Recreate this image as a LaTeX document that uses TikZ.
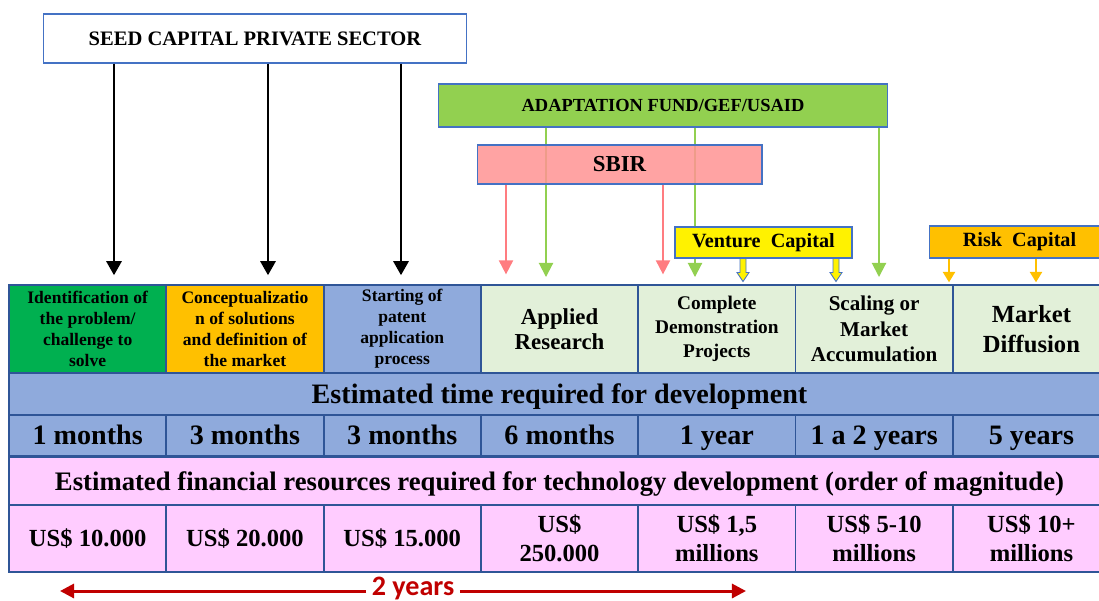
\documentclass[tikz,border=0pt]{standalone}
\usepackage{fontspec}
\setmainfont{Liberation Serif}
\newfontfamily\yearsfont{Carlito}
\usetikzlibrary{arrows.meta}

\definecolor{cellline}{RGB}{47,85,151}
\definecolor{boxline}{RGB}{68,114,196}
\definecolor{stagegreen}{RGB}{0,176,80}
\definecolor{stageorange}{RGB}{255,192,0}
\definecolor{stageblue}{RGB}{143,170,220}
\definecolor{stagelight}{RGB}{226,240,217}
\definecolor{costpink}{RGB}{255,204,255}
\definecolor{fundgreen}{RGB}{146,208,80}
\definecolor{sbirred}{RGB}{255,147,147}
\definecolor{sbirarrow}{RGB}{255,124,128}
\definecolor{yearred}{RGB}{192,0,0}

\begin{document}
\begin{tikzpicture}[x=0.02cm, y=-0.02cm,
    topbox/.style={draw=boxline, line width=.6pt, inner sep=0pt},
    cell/.style={draw=cellline, line width=1.1pt, inner sep=0pt, align=center, minimum width=3.146cm},
    timecell/.style={cell, fill=stageblue, font=\fontsize{16}{18}\selectfont\bfseries, text height=10.5pt, text depth=0pt},
    costcell/.style={cell, fill=costpink, minimum height=1.34cm, font=\fontsize{14}{16.5}\selectfont\bfseries},
    seedarr/.style={line width=1.7pt, -{Triangle[length=8pt,width=8.5pt]}, shorten >=5pt},
    fundarr/.style={draw=fundgreen, line width=1.1pt, -{Triangle[length=8pt,width=8pt]}, shorten >=4pt},
    sbirarr/.style={draw=sbirarrow, line width=1.1pt, -{Triangle[length=8pt,width=8pt]}, shorten >=5.5pt},
    riskarr/.style={draw=stageorange, line width=1.1pt, -{Triangle[length=6pt,width=7pt]}, shorten >=1pt},
    blockarr/.style={draw=boxline, fill=yellow, line width=.5pt},
    yeararr/.style={draw=yearred, line width=1.7pt, -{Triangle[length=8pt,width=8pt]}}]
             \useasboundingbox (0,0) rectangle (1099,600);

             % stages
             \node[cell, fill=stagegreen, minimum height=1.76cm, font=\fontsize{10}{12}\selectfont\bfseries] (s1) at (87.65, 329)
                {Identification of\\the problem/\\challenge to\\solve};
             \node[cell, fill=stageorange, minimum height=1.76cm, font=\fontsize{10}{12}\selectfont\bfseries] (s2) at (244.95, 329)
                {Conceptualizatio\\n of solutions\\and definition of\\the market};
             \node[cell, fill=stageblue, minimum height=1.76cm, font=\fontsize{10}{12}\selectfont\bfseries] (s3) at (402.25, 329)
                {Starting of\\patent\\application\\process};
             \node[cell, fill=stagelight, minimum height=1.76cm, font=\fontsize{13}{14.5}\selectfont\bfseries] (s4) at (559.55, 329)
                {Applied\\Research};
             \node[cell, fill=stagelight, minimum height=1.76cm, font=\fontsize{11}{13.5}\selectfont\bfseries] (s5) at (716.85, 329)
                {Complete\\Demonstration\\Projects};
             \node[cell, fill=stagelight, minimum height=1.76cm, font=\fontsize{12}{14.5}\selectfont\bfseries] (s6) at (874.15, 329)
                {Scaling or\\Market\\Accumulation};
             \node[cell, fill=stagelight, minimum height=1.76cm, font=\fontsize{14}{17}\selectfont\bfseries] (s7) at (1031.45, 329)
                {Market\\Diffusion};

             % funding sources
             \node[topbox, fill=white, minimum width=8.48cm, minimum height=.98cm,
                   font=\fontsize{11.7}{13}\selectfont\bfseries] (seed) at (255, 38.5) {SEED CAPITAL PRIVATE SECTOR};
             \node[topbox, fill=fundgreen, minimum width=9cm, minimum height=.86cm,
                   font=\fontsize{10.5}{12}\selectfont\bfseries] (fund) at (663, 105.5) {ADAPTATION FUND/GEF/USAID};
             \foreach \x in {546, 695, 879}
                \draw[fundarr] (\x,0 |- fund.south) -- (\x,0 |- s1.north);
             \node[topbox, fill=sbirred, fill opacity=.85, text opacity=1, minimum width=5.7cm, minimum height=.78cm,
                   font=\fontsize{13}{15}\selectfont\bfseries] (sbir) at (619.5, 164.5) {SBIR};
             \node[topbox, fill=yellow, minimum width=3.54cm, minimum height=.62cm,
                   font=\fontsize{11.5}{13}\selectfont\bfseries] (venture) at (763.5, 242.5) {Venture\ \ Capital};
             \node[topbox, fill=stageorange, minimum width=3.62cm, minimum height=.64cm,
                   font=\fontsize{11.5}{13}\selectfont\bfseries] (risk) at (1019.5, 242) {Risk\ \ Capital};

             % arrows into the stages
             \foreach \x in {114, 268, 401}
                \draw[seedarr] (\x,0 |- seed.south) -- (\x,0 |- s1.north);
             \foreach \x in {506, 663}
                \draw[sbirarr] (\x,0 |- sbir.south) -- (\x,0 |- s1.north);
             \foreach \x in {949, 1036}
                \draw[riskarr] (\x,0 |- risk.south) -- (\x,0 |- s1.north);
             \foreach \x in {743, 836}
                \draw[blockarr] (\x,0 |- venture.south) ++(-3,0) -- ++(0,14) -- ++(-3,0) -- ++(6,9)
                   -- ++(6,-9) -- ++(-3,0) -- ++(0,-14) -- cycle;

             % time
             \node[timecell, minimum width=22.02cm, minimum height=.84cm] (timetitle) at (559.5, 394)
                {Estimated time required for development};
             \node[timecell, minimum height=.82cm] (t1) at (87.65, 435.5) {1 months};
             \node[timecell, minimum height=.82cm] (t2) at (244.95, 435.5) {3 months};
             \node[timecell, minimum height=.82cm] (t3) at (402.25, 435.5) {3 months};
             \node[timecell, minimum height=.82cm] (t4) at (559.55, 435.5) {6 months};
             \node[timecell, minimum height=.82cm] (t5) at (716.85, 435.5) {1 year};
             \node[timecell, minimum height=.82cm] (t6) at (874.15, 435.5) {1 a 2 years};
             \node[timecell, minimum height=.82cm] (t7) at (1031.45, 435.5) {5 years};

             % money
             \node[cell, fill=costpink, minimum width=22.02cm, minimum height=.98cm, text height=10pt, text depth=0pt,
                   font=\fontsize{15.2}{17}\selectfont\bfseries] (costtitle) at (559.5, 481.5)
                {Estimated\ financial\ resources\ required\ for technology development (order of magnitude)};
             \node[costcell, text height=9.2pt, text depth=0pt] (c1) at (87.65, 538.5) {US\$ 10.000};
             \node[costcell, text height=9.2pt, text depth=0pt] (c2) at (244.95, 538.5) {US\$ 20.000};
             \node[costcell, text height=9.2pt, text depth=0pt] (c3) at (402.25, 538.5) {US\$ 15.000};
             \node[costcell] (c4) at (559.55, 538.5) {US\$\\250.000};
             \node[costcell] (c5) at (716.85, 538.5) {US\$ 1,5\\millions};
             \node[costcell] (c6) at (874.15, 538.5) {US\$ 5-10\\millions};
             \node[costcell] (c7) at (1031.45, 538.5) {US\$ 10+\\millions};

             % two years span
             \node[text=yearred, inner sep=3pt, font=\yearsfont\fontsize{16}{18}\selectfont\bfseries] (years) at (413, 588) {2 years};
             \coordinate (yearsleft) at (60, 591);
             \coordinate (yearsright) at (746, 591);
             \draw[yeararr] (years.west |- yearsleft) -- (yearsleft);
             \draw[yeararr] (years.east |- yearsright) -- (yearsright);

             \end{tikzpicture}
\end{document}
